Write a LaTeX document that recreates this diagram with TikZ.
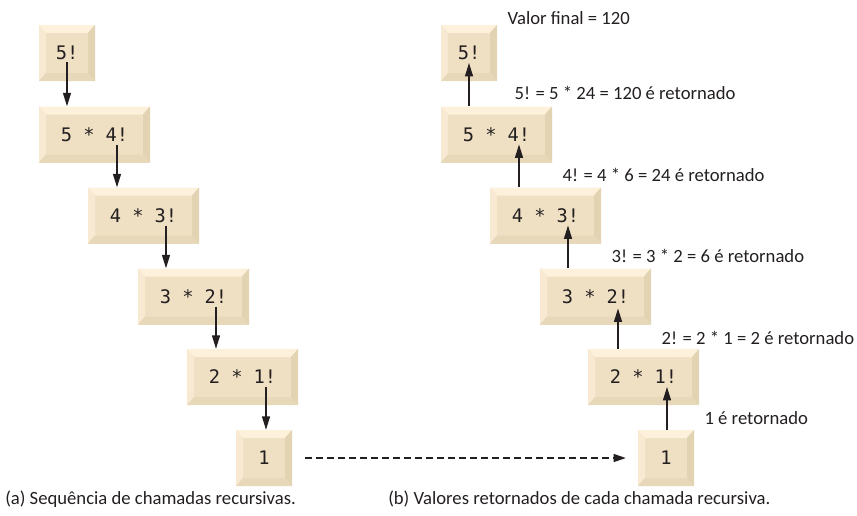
\documentclass[tikz,border=0pt]{standalone}
\usepackage{fontspec}
\setmainfont{Carlito}
\setmonofont{DejaVu Sans Mono}
\usepackage{tikz}
\usetikzlibrary{arrows.meta, positioning, calc}
\definecolor{bvface}{RGB}{239,224,196}
\definecolor{bvtop}{RGB}{253,241,220}
\definecolor{bvleft}{RGB}{248,234,210}
\definecolor{bvright}{RGB}{226,211,178}
\definecolor{bvbottom}{RGB}{231,216,186}
\definecolor{inkgray}{RGB}{35,31,32}
\tikzset{
  key box/.style={
    rectangle, fill=bvface, inner sep=0pt,
    minimum height=42pt, text=inkgray,
    font=\ttfamily\fontsize{14pt}{16pt}\selectfont,
    path picture={
      \coordinate (bvsw) at (path picture bounding box.south west);
      \coordinate (bvne) at (path picture bounding box.north east);
      \coordinate (bvnw) at (path picture bounding box.north west);
      \coordinate (bvse) at (path picture bounding box.south east);
      \coordinate (ivsw) at ($(bvsw)+(5.25pt,6pt)$);
      \coordinate (ivne) at ($(bvne)+(-5.25pt,-6pt)$);
      \coordinate (ivnw) at ($(bvnw)+(5.25pt,-6pt)$);
      \coordinate (ivse) at ($(bvse)+(-5.25pt,6pt)$);
      \fill[bvtop] (bvnw) -- (bvne) -- (ivne) -- (ivnw) -- cycle;
      \fill[bvleft] (bvsw) -- (bvnw) -- (ivnw) -- (ivsw) -- cycle;
      \fill[bvright] (bvne) -- (bvse) -- (ivse) -- (ivne) -- cycle;
      \fill[bvbottom] (bvsw) -- (bvse) -- (ivse) -- (ivsw) -- cycle;
    }
  },
  key small/.style={key box, minimum width=42pt},
  key wide/.style={key box, minimum width=83.25pt},
  call arrow/.style={
    -{Triangle[length=10pt,width=6pt]}, line width=0.9pt, draw=inkgray
  },
  link arrow/.style={
    -{Triangle[length=9pt,width=6pt]}, line width=0.8pt, draw=inkgray,
    dash pattern=on 5.25pt off 3pt, shorten <=9.75pt, shorten >=9pt
  },
  ret label/.style={
    anchor=west, inner sep=0pt, text=inkgray,
    font=\fontsize{14pt}{16pt}\selectfont
  },
  cap label/.style={
    anchor=west, inner sep=0pt, text=inkgray,
    font=\fontsize{14pt}{16pt}\selectfont
  }
}

\begin{document}
\begin{tikzpicture}[x=0.75pt, y=-0.75pt]
\useasboundingbox (0,0) rectangle (857,515);

% ====== (a) recursive calls ======
\node[key small] (a5) at (67,53) {5!};
\node[key wide] (a4) at (94.5,134.5) {5 * 4!};
\node[key wide] (a3) at (143.5,215.5) {4 * 3!};
\node[key wide] (a2) at (193.5,296.5) {3 * 2!};
\node[key wide] (a1) at (242.5,377) {2 * 1!};
\node[key small] (a0) at (264,458) {1};

\coordinate (c5) at ($(a5.center)+(0,9)$);
\coordinate (c4) at ($(a4.center)+(22.5,10)$);
\coordinate (c3) at ($(a3.center)+(22.5,10)$);
\coordinate (c2) at ($(a2.center)+(22.5,10)$);
\coordinate (c1) at ($(a1.center)+(23.5,10)$);
\draw[call arrow] (c5) -- (c5 |- a4.north);
\draw[call arrow] (c4) -- (c4 |- a3.north);
\draw[call arrow] (c3) -- (c3 |- a2.north);
\draw[call arrow] (c2) -- (c2 |- a1.north);
\draw[call arrow] (c1) -- (c1 |- a0.north);

% ====== (b) returned values ======
\node[key small] (b5) at (469,53) {5!};
\node[key wide] (b4) at (496.5,134.5) {5 * 4!};
\node[key wide] (b3) at (545.5,215.5) {4 * 3!};
\node[key wide] (b2) at (595.5,296.5) {3 * 2!};
\node[key wide] (b1) at (643.5,377) {2 * 1!};
\node[key small] (b0) at (666,458) {1};

\coordinate (r5) at ($(b5.center)+(0,10)$);
\coordinate (r4) at ($(b4.center)+(22.5,10)$);
\coordinate (r3) at ($(b3.center)+(22.5,10)$);
\coordinate (r2) at ($(b2.center)+(22.5,12)$);
\coordinate (r1) at ($(b1.center)+(23.5,10)$);
\draw[call arrow] (r5 |- b4.north) -- (r5);
\draw[call arrow] (r4 |- b3.north) -- (r4);
\draw[call arrow] (r3 |- b2.north) -- (r3);
\draw[call arrow] (r2 |- b1.north) -- (r2);
\draw[call arrow] (r1 |- b0.north) -- (r1);

\node[ret label] (lv) at ($(b5.north east)+(10,-7)$) {Valor final = 120};
\node[ret label] (l5) at ($(b5.south east)+(17,12)$) {5! = 5 * 24 = 120 é retornado};
\node[ret label] (l4) at ($(b4.south east)+(10,12)$) {4! = 4 * 6 = 24 é retornado};
\node[ret label] (l3) at ($(b3.south east)+(10,12)$) {3! = 3 * 2 = 6 é retornado};
\node[ret label] (l2) at ($(b2.south east)+(10,13)$) {2! = 2 * 1 = 2 é retornado};
\node[ret label] (l1) at ($(b1.south east)+(5,13)$) {1 é retornado};

% -- link between the two columns --
\draw[link arrow] (a0.east) -- (b0.west);

% ====== captions ======
\node[cap label] (capa) at (5,499) {(a) Sequência de chamadas recursivas.};
\node[cap label] (capb) at (388,499) {(b) Valores retornados de cada chamada recursiva.};

\end{tikzpicture}
\end{document}
